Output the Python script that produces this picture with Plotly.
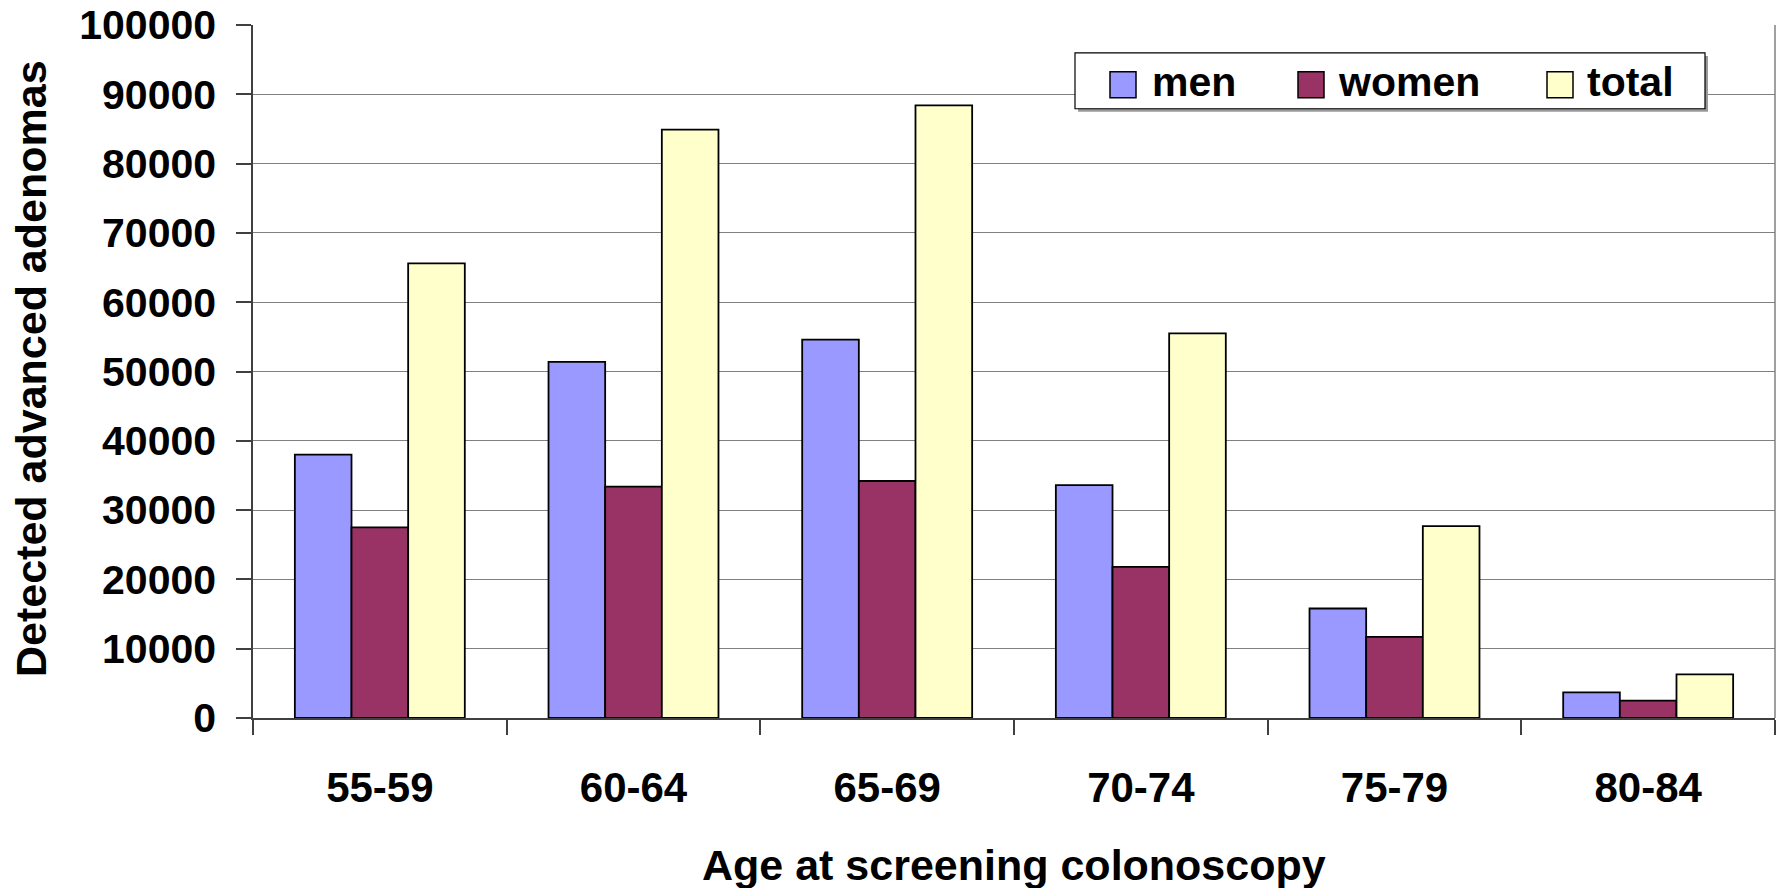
import plotly.graph_objects as go

categories = ["55-59", "60-64", "65-69", "70-74", "75-79", "80-84"]
men = [38000, 51400, 54600, 33600, 15800, 3700]
women = [27500, 33400, 34200, 21800, 11700, 2500]
total = [65600, 84900, 88400, 55500, 27700, 6300]
series_names = ["men", "women", "total"]
series_colors = ["#9999FF", "#993366", "#FFFFCC"]
y_ticks = list(range(0, 100001, 10000))

FONT = "Liberation Sans, Arial, sans-serif"
W, H = 1777, 888
L, R, T, B = 253, 1775, 23, 718


def px(x):
    return (x - L) / (R - L)


def py(y):
    return (B - y) / (B - T)


fig = go.Figure()
for name, vals, col in zip(series_names, [men, women, total], series_colors):
    fig.add_trace(go.Bar(
        x=categories, y=vals, name=name,
        marker=dict(color=col, line=dict(color="#000000", width=1.8)),
        showlegend=False,
    ))

shapes = []
annotations = []

# right border of plot area
shapes.append(dict(type="line", xref="paper", yref="paper", x0=1, x1=1, y0=0, y1=1,
                   line=dict(color="#808080", width=1.5)))

# legend (manual)
lx0, lx1, ly0, ly1 = 1075, 1705, 51, 107
shapes.append(dict(type="rect", xref="paper", yref="paper",
                   x0=px(lx0 + 3), x1=px(lx1 + 3), y0=py(ly1 + 3), y1=py(ly0 + 3),
                   line=dict(width=0), fillcolor="#9a9a9a", layer="above"))
shapes.append(dict(type="rect", xref="paper", yref="paper",
                   x0=px(lx0), x1=px(lx1), y0=py(ly1), y1=py(ly0),
                   line=dict(color="#000000", width=1.2), fillcolor="#FFFFFF", layer="above"))
sw_x = [1110, 1298, 1547]
txt_x = [1150, 1336, 1585]
for i, (name, col) in enumerate(zip(series_names, series_colors)):
    shapes.append(dict(type="rect", xref="paper", yref="paper",
                       x0=px(sw_x[i]), x1=px(sw_x[i] + 26), y0=py(96), y1=py(70),
                       line=dict(color="#000000", width=1.5), fillcolor=col, layer="above"))
    annotations.append(dict(text=name, xref="paper", yref="paper",
                            x=px(txt_x[i]), y=py(80), xanchor="left", yanchor="middle",
                            showarrow=False,
                            font=dict(family=FONT, size=41, color="#000000", weight="bold")))

# axis titles
annotations.append(dict(text="Age at screening colonoscopy", xref="paper", yref="paper",
                        x=px(1014), y=py(865), xanchor="center", yanchor="middle",
                        showarrow=False,
                        font=dict(family=FONT, size=43, color="#000000", weight="bold")))
annotations.append(dict(text="Detected advanced adenomas", xref="paper", yref="paper",
                        x=px(31), y=py(368), xanchor="center", yanchor="middle",
                        textangle=-90, showarrow=False,
                        font=dict(family=FONT, size=43, color="#000000", weight="bold")))

fig.update_layout(
    width=W, height=H,
    margin=dict(l=L, r=W - R, t=T, b=H - B, pad=0),
    paper_bgcolor="#FFFFFF", plot_bgcolor="#FFFFFF",
    barmode="group", bargap=0.33, bargroupgap=0,
    shapes=shapes, annotations=annotations,
    font=dict(family=FONT, color="#000000"),
)
fig.update_xaxes(
    type="category", showgrid=False, showline=True, linecolor="#404040", linewidth=1.5,
    ticks="outside", tickson="boundaries", ticklen=15, tickcolor="#404040", tickwidth=1.5,
    tickfont=dict(family=FONT, size=42, color="#000000", weight="bold"),
    ticklabelstandoff=32,
)
fig.update_yaxes(
    range=[0, 100000], tickvals=y_ticks, ticktext=[str(v) for v in y_ticks],
    showgrid=True, gridcolor="#808080", gridwidth=1.2, zeroline=False,
    showline=True, linecolor="#404040", linewidth=1.5,
    ticks="outside", ticklen=15, tickcolor="#404040", tickwidth=1.5,
    tickfont=dict(family=FONT, size=41, color="#000000", weight="bold"),
    ticklabelstandoff=12,
)

fig.write_html(
    "out.html",
    config={"displayModeBar": False},
    post_script="document.body.style.margin='0';document.body.style.overflow='hidden';",
)
